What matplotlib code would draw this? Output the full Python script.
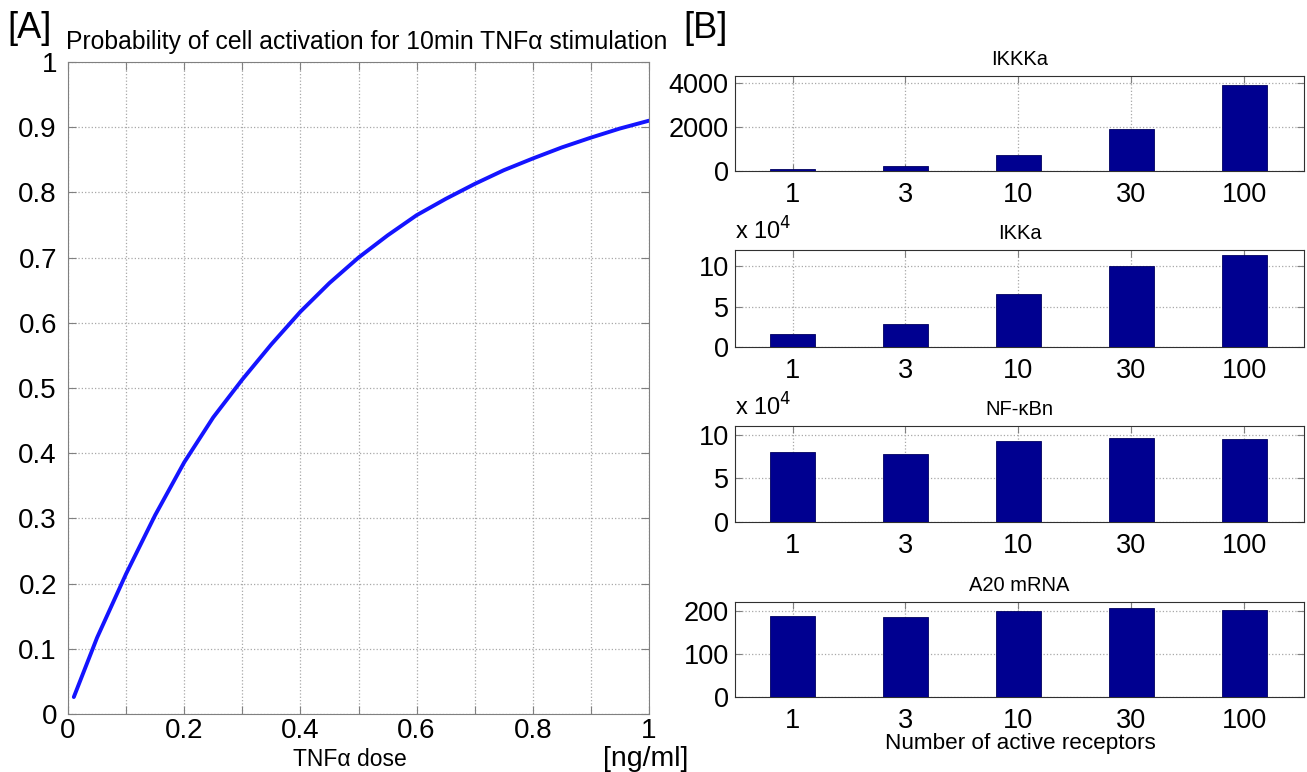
import numpy as np
import matplotlib
matplotlib.use('Agg')
import matplotlib.pyplot as plt

plt.rcParams['font.family'] = ['Liberation Sans', 'DejaVu Sans']

# panel A: probability curve
dose = [0.01, 0.05, 0.10, 0.15, 0.20, 0.25, 0.30, 0.35, 0.40, 0.45, 0.50,
        0.55, 0.60, 0.65, 0.70, 0.75, 0.80, 0.85, 0.90, 0.95, 1.00]
prob = [0.026, 0.117, 0.215, 0.305, 0.386, 0.455, 0.513, 0.567, 0.617, 0.661, 0.70,
        0.734, 0.765, 0.79, 0.813, 0.834, 0.852, 0.869, 0.884, 0.898, 0.91]

# panel B: bar charts
receptors = ['1', '3', '10', '30', '100']
ikkka = [100, 220, 730, 1880, 3900]
ikka = [1.67, 2.83, 6.54, 10.0, 11.4]      # x 10^4
nfkbn = [8.03, 7.80, 9.32, 9.66, 9.55]     # x 10^4
a20 = [188.5, 186.3, 200, 205, 200.8]

W, H = 1307, 772
fig = plt.figure(figsize=(W / 100, H / 100), dpi=100)

def px_axes(left, top, right, bottom):
    return fig.add_axes([left / W, (H - bottom) / H, (right - left) / W, (bottom - top) / H])

grid_style = dict(color='#a8a8a8', linestyle=':', linewidth=0.9)

# ---- panel A
ax = px_axes(68, 62, 649, 714)
ax.plot(dose, prob, color='#1414ff', linewidth=2.8, solid_capstyle='round',
        solid_joinstyle='round')
ax.set_xlim(0, 1)
ax.set_ylim(0, 1)
ax.set_xticks(np.arange(0, 1.01, 0.1))
ax.set_xticklabels(['0', '', '0.2', '', '0.4', '', '0.6', '', '0.8', '', '1'])
ax.set_yticks(np.arange(0, 1.01, 0.1))
ax.set_yticklabels(['0', '0.1', '0.2', '0.3', '0.4', '0.5', '0.6', '0.7', '0.8', '0.9', '1'])
ax.grid(True, **grid_style)
ax.tick_params(direction='in', length=6, labelsize=20, top=True, right=True, color='#808080')
ax.tick_params(axis='x', pad=3)
ax.tick_params(axis='y', pad=8)
for s in ax.spines.values():
    s.set_color('#808080')
fig.text(367 / W, 1 - 42 / H, 'Probability of cell activation for 10min TNF\u03b1 stimulation',
         fontsize=17.8, ha='center', va='center')
fig.text(350 / W, 1 - 759 / H, 'TNF\u03b1 dose', fontsize=16.5, ha='center', va='center')
fig.text(646 / W, 1 - 759 / H, '[ng/ml]', fontsize=20.5, ha='center', va='center')
fig.text(7 / W, 1 - 29 / H, '[A]', fontsize=26, ha='left', va='center')
fig.text(683 / W, 1 - 29 / H, '[B]', fontsize=26, ha='left', va='center')

# ---- panel B
panels = [
    ('IKKKa', ikkka, 4300, [0, 2000, 4000], False, (76, 171)),
    ('IKKa', ikka, 12, [0, 5, 10], True, (250, 347)),
    ('NF-\u03baBn', nfkbn, 11, [0, 5, 10], True, (426, 522)),
    ('A20 mRNA', a20, 220, [0, 100, 200], False, (602, 697)),
]
xpos = np.arange(1, len(receptors) + 1)
for title, vals, ytop, yt, sci, (top, bottom) in panels:
    bx = px_axes(735, top, 1304, bottom)
    bx.bar(xpos, vals, width=0.4, color='#000090', edgecolor='#000060', linewidth=0.6, zorder=3)
    bx.set_xlim(0.49, 5.53)
    bx.set_ylim(0, ytop)
    bx.set_xticks(xpos)
    bx.set_xticklabels(receptors)
    bx.set_yticks(yt)
    bx.grid(True, zorder=0, **grid_style)
    bx.set_axisbelow(True)
    bx.tick_params(direction='in', length=5, labelsize=19.5, top=True, right=True, color='#808080')
    bx.tick_params(axis='x', pad=8)
    bx.tick_params(axis='y', pad=4.5)
    for s in bx.spines.values():
        s.set_color('#303030')
    bx.set_title(title, fontsize=14.5, pad=8)
    if sci:
        bx.text(0.0, 1.06, 'x 10$^4$', transform=bx.transAxes, fontsize=17, ha='left', va='bottom')

fig.text(1020 / W, 1 - 744 / H, 'Number of active receptors', fontsize=16.2, ha='center', va='center')

fig.savefig('out.png', dpi=100)
